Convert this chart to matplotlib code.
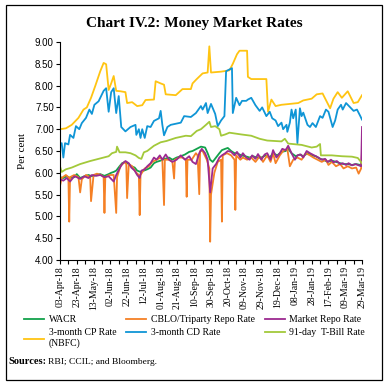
import numpy as np
import pandas as pd
import matplotlib
matplotlib.use("Agg")
import matplotlib.pyplot as plt
from matplotlib.patches import Rectangle

# day offsets from 03-Apr-2018 and the rate read for that day (per cent)
start = pd.Timestamp("2018-04-03")

cp_days = [0, 7, 14, 22, 28, 32, 37, 42, 48, 52, 55, 58, 61, 64, 67, 72, 78, 80, 86, 92,
           98, 102, 112, 114, 120, 124, 126, 138, 146, 156, 158, 163, 170, 176, 178, 180,
           192, 202, 206, 211, 214, 223, 224, 228, 246, 248, 252, 257, 264, 284, 290, 300,
           306, 313, 322, 326, 331, 336, 343, 350, 355, 360]
cp_vals = [7.00, 7.02, 7.10, 7.26, 7.45, 7.50, 7.72, 7.99, 8.33, 8.52, 8.49, 7.90, 8.05,
           8.22, 7.88, 7.87, 7.85, 7.60, 7.62, 7.53, 7.55, 7.67, 7.68, 8.10, 8.05, 8.02,
           7.80, 7.78, 7.92, 7.92, 8.05, 8.15, 8.28, 8.30, 8.90, 8.30, 8.32, 8.35, 8.50,
           8.72, 8.80, 8.80, 8.20, 8.15, 8.15, 7.40, 7.68, 7.53, 7.56, 7.60, 7.66, 7.70,
           7.80, 7.82, 7.48, 7.70, 7.85, 7.72, 7.87, 7.60, 7.62, 7.78]

cd_days = [0, 2, 4, 6, 10, 12, 16, 19, 23, 26, 31, 35, 38, 41, 46, 52, 55, 58, 61, 64,
           67, 70, 73, 78, 84, 90, 91, 94, 96, 98, 101, 104, 108, 112, 118, 120, 122, 124,
           128, 132, 144, 148, 156, 162, 168, 170, 174, 176, 180, 185, 188, 192, 196, 198,
           203, 205, 206, 210, 214, 217, 222, 224, 228, 233, 238, 241, 246, 250, 253, 257,
           260, 264, 266, 270, 271, 274, 276, 278, 281, 283, 286, 288, 290, 295, 298, 301,
           305, 310, 313, 317, 320, 325, 328, 331, 335, 337, 341, 346, 350, 354, 358, 360]
cd_vals = [6.65, 6.68, 6.35, 6.68, 6.65, 6.87, 6.80, 7.07, 7.00, 7.14, 7.26, 7.45, 7.35,
           7.56, 7.64, 7.88, 7.94, 7.40, 7.85, 7.94, 7.37, 7.76, 7.05, 6.95, 7.05, 7.10,
           6.87, 7.00, 6.80, 7.00, 6.80, 7.07, 7.05, 7.19, 7.25, 7.42, 7.10, 6.86, 7.05,
           7.10, 7.15, 7.30, 7.28, 7.37, 7.53, 7.45, 7.60, 7.37, 7.58, 7.35, 7.07, 7.20,
           7.30, 8.33, 8.38, 8.40, 7.37, 7.72, 7.55, 7.65, 7.65, 7.68, 7.72, 7.55, 7.42,
           7.50, 7.30, 7.40, 7.25, 7.20, 7.07, 7.15, 7.00, 7.10, 6.94, 7.15, 7.45, 7.25,
           7.45, 6.68, 7.48, 7.30, 7.38, 7.10, 7.05, 7.14, 7.05, 7.30, 7.26, 7.45, 7.40,
           7.05, 7.20, 7.45, 7.56, 7.45, 7.60, 7.50, 7.42, 7.45, 7.30, 7.22]

tb_days = [0, 2, 7, 14, 24, 36, 48, 58, 62, 67, 68, 71, 78, 84, 90, 94, 97, 100, 104,
           112, 120, 127, 138, 150, 156, 163, 168, 174, 178, 180, 185, 190, 192, 197, 202,
           209, 216, 228, 238, 247, 264, 268, 272, 288, 300, 306, 310, 311, 324, 336, 348,
           355, 360]
tb_vals = [6.15, 6.02, 6.08, 6.12, 6.20, 6.27, 6.33, 6.38, 6.45, 6.48, 6.60, 6.47, 6.47,
           6.45, 6.40, 6.34, 6.32, 6.47, 6.50, 6.62, 6.70, 6.73, 6.80, 6.85, 6.84, 6.96,
           7.00, 7.10, 7.17, 7.05, 7.07, 7.00, 6.85, 6.88, 6.92, 6.90, 6.88, 6.85, 6.78,
           6.74, 6.72, 6.78, 6.67, 6.64, 6.58, 6.60, 6.66, 6.40, 6.40, 6.38, 6.37, 6.34,
           6.22]

repo_days = [0, 4, 8, 12, 17, 20, 24, 29, 34, 38, 43, 48, 53, 58, 60, 64, 67, 71, 74, 78,
             82, 85, 89, 92, 95, 97, 101, 104, 108, 112, 115, 119, 122, 126, 130, 134, 139,
             144, 149, 154, 158, 162, 166, 169, 173, 176, 179, 182, 186, 190, 193, 197, 200,
             204, 208, 211, 215, 218, 222, 226, 229, 233, 236, 240, 244, 247, 251, 254, 258,
             262, 265, 269, 272, 276, 280, 283, 287, 290, 294, 298, 301, 305, 308, 312, 316,
             319, 323, 326, 330, 334, 337, 341, 344, 348, 352, 355, 359, 360]
repo_vals = [5.85, 5.82, 5.88, 5.80, 5.92, 5.90, 5.86, 5.92, 5.88, 5.95, 5.93, 5.95, 5.90,
             5.92, 5.88, 5.80, 5.95, 6.10, 6.20, 6.27, 6.22, 6.12, 6.05, 5.95, 5.88, 6.05,
             6.08, 6.15, 6.22, 6.35, 6.30, 6.40, 6.30, 6.42, 6.30, 6.25, 6.30, 6.40, 6.30,
             6.38, 6.25, 6.20, 6.45, 6.55, 6.45, 6.30, 5.55, 6.10, 6.20, 6.35, 6.40, 6.45,
             6.50, 6.48, 6.40, 6.48, 6.35, 6.45, 6.35, 6.30, 6.40, 6.32, 6.43, 6.30, 6.42,
             6.45, 6.30, 6.52, 6.35, 6.45, 6.55, 6.52, 6.62, 6.45, 6.30, 6.40, 6.42, 6.35,
             6.50, 6.45, 6.42, 6.38, 6.35, 6.30, 6.32, 6.25, 6.30, 6.24, 6.27, 6.20, 6.22,
             6.18, 6.22, 6.17, 6.20, 6.18, 6.15, 7.05]

wacr_days = [0, 4, 8, 12, 17, 20, 24, 29, 34, 38, 43, 48, 53, 58, 61, 64, 67, 71, 74, 78,
             82, 85, 89, 92, 96, 100, 104, 108, 112, 115, 120, 125, 130, 134, 139, 144, 149,
             154, 158, 163, 168, 173, 176, 179, 182, 186, 190, 193, 197, 200, 204, 208, 211,
             216, 221, 226, 230, 235, 240, 245, 250, 254, 259, 264, 269, 272, 276, 281, 286,
             290, 295, 300, 305, 310, 314, 319, 324, 329, 334, 338, 343, 348, 353, 358, 360]
wacr_vals = [5.90, 5.88, 5.92, 5.88, 5.90, 5.97, 5.88, 5.92, 5.95, 5.92, 5.95, 5.97, 5.93,
             5.97, 6.00, 6.02, 6.05, 6.15, 6.22, 6.25, 6.20, 6.15, 6.12, 6.05, 6.02, 6.05,
             6.08, 6.12, 6.22, 6.25, 6.28, 6.32, 6.35, 6.30, 6.35, 6.38, 6.42, 6.48, 6.50,
             6.55, 6.60, 6.58, 6.45, 6.30, 6.25, 6.35, 6.45, 6.52, 6.55, 6.57, 6.50, 6.45,
             6.45, 6.40, 6.38, 6.35, 6.38, 6.35, 6.35, 6.40, 6.35, 6.45, 6.40, 6.48, 6.50,
             6.55, 6.45, 6.38, 6.42, 6.38, 6.45, 6.40, 6.38, 6.32, 6.30, 6.25, 6.28, 6.25,
             6.22, 6.20, 6.20, 6.18, 6.20, 6.18, 6.15]

cblo_days = [0, 2, 7, 10, 11, 12, 17, 22, 24, 26, 31, 36, 37, 40, 44, 49, 52, 53, 54, 59,
             64, 67, 68, 72, 77, 79, 80, 82, 86, 91, 94, 95, 96, 101, 106, 110, 115, 120,
             122, 124, 125, 130, 134, 136, 137, 142, 146, 150, 151, 152, 157, 162, 164, 166,
             167, 170, 175, 178, 179, 180, 184, 188, 192, 193, 194, 199, 204, 208, 209, 210,
             215, 218, 223, 228, 233, 238, 242, 247, 251, 254, 257, 262, 266, 271, 274, 278,
             283, 288, 293, 298, 302, 307, 312, 317, 320, 324, 329, 334, 338, 343, 348, 353,
             356, 359, 360]
cblo_vals = [5.70, 5.88, 5.95, 5.90, 4.88, 5.90, 5.95, 5.90, 5.55, 5.85, 5.95, 5.90, 5.35,
             5.95, 5.98, 5.95, 5.90, 5.08, 5.90, 5.95, 5.95, 5.08, 5.90, 6.15, 6.25, 6.20,
             5.42, 6.20, 6.15, 6.00, 5.95, 5.03, 5.95, 6.10, 6.15, 6.25, 6.30, 6.35, 6.30,
             5.26, 6.30, 6.30, 6.25, 5.87, 6.30, 6.35, 6.35, 6.30, 5.45, 6.30, 6.30, 6.45,
             6.40, 5.51, 6.50, 6.50, 6.30, 6.10, 4.42, 5.50, 6.00, 6.25, 6.30, 4.88, 6.40,
             6.45, 6.40, 6.30, 5.15, 6.40, 6.30, 6.35, 6.30, 6.35, 6.25, 6.38, 6.25, 6.40,
             6.25, 6.45, 6.22, 6.40, 6.50, 6.55, 6.15, 6.30, 6.35, 6.30, 6.45, 6.40, 6.35,
             6.30, 6.25, 6.30, 6.18, 6.25, 6.15, 6.20, 6.10, 6.15, 6.10, 6.12, 5.98, 6.10,
             6.48]

def to_dates(days):
    return start + pd.to_timedelta(days, unit="D")

series = [
    ("WACR", wacr_days, wacr_vals, "#12a14b"),
    ("CBLO/Triparty Repo Rate", cblo_days, cblo_vals, "#f58025"),
    ("Market Repo Rate", repo_days, repo_vals, "#9c2a90"),
    ("3-month CP Rate\n(NBFC)", cp_days, cp_vals, "#ffc412"),
    ("3-month CD Rate", cd_days, cd_vals, "#0f95d6"),
    ("91-day  T-Bill Rate", tb_days, tb_vals, "#a3c93a"),
]

serif = "Liberation Serif"

fig = plt.figure(figsize=(3.88, 3.87), dpi=100)
ax = fig.add_axes([60 / 388, 1 - 260 / 387, 302 / 388, 218 / 387])

lines = {}
for name, d, v, c in series:
    ln, = ax.plot(to_dates(d), v, color=c, lw=1.3, label=name)
    lines[name] = ln

ax.set_ylim(4.0, 9.0)
yt = np.arange(4.0, 9.01, 0.5)
ax.set_yticks(yt)
ax.set_yticklabels([f"{t:.2f}" for t in yt], fontsize=7, family="Liberation Sans")
ax.set_xlim(start, pd.Timestamp("2019-03-29"))
major = pd.date_range("2018-04-03", "2019-03-29", freq="20D")
minor = pd.date_range("2018-04-13", "2019-03-29", freq="20D")
ax.set_xticks(major)
ax.set_xticks(minor, minor=True)
ax.set_xticklabels([t.strftime("%d-%b-%y") for t in major], rotation=90,
                   fontsize=7, family=serif)
ax.tick_params(axis="both", direction="out", length=3, width=0.8, pad=1.5)
ax.tick_params(axis="x", which="minor", length=3, width=0.8)
for s in ["top", "right"]:
    ax.spines[s].set_visible(False)
ax.set_ylabel("Per cent", fontsize=8, family=serif, labelpad=6)

fig.text(0.5, 1 - 23 / 387, "Chart IV.2: Money Market Rates", ha="center", va="center",
         fontsize=11, fontweight="bold", family=serif)

order = ["WACR", "3-month CP Rate\n(NBFC)", "CBLO/Triparty Repo Rate",
         "3-month CD Rate", "Market Repo Rate", "91-day  T-Bill Rate"]
fig.legend([lines[k] for k in order], order, loc="upper left",
           bbox_to_anchor=(24 / 388, 1 - 315 / 387), ncol=3, frameon=False,
           prop={"family": serif, "size": 7}, handlelength=2.05, handletextpad=0.5,
           columnspacing=1.0, labelspacing=0.45, borderpad=0, borderaxespad=0)

fig.text(8 / 388, 1 - 362 / 387, "Sources:", fontsize=7.5, fontweight="bold",
         family=serif, va="center")
fig.text(48 / 388, 1 - 362 / 387, "RBI; CCIL; and Bloomberg.", fontsize=6.8,
         family=serif, va="center")

fig.patches.append(Rectangle((6 / 388, 1 - 380 / 387), 376 / 388, 375 / 387,
                             transform=fig.transFigure, fill=False, lw=0.9,
                             edgecolor="black"))

fig.savefig("out.png", dpi=100)
